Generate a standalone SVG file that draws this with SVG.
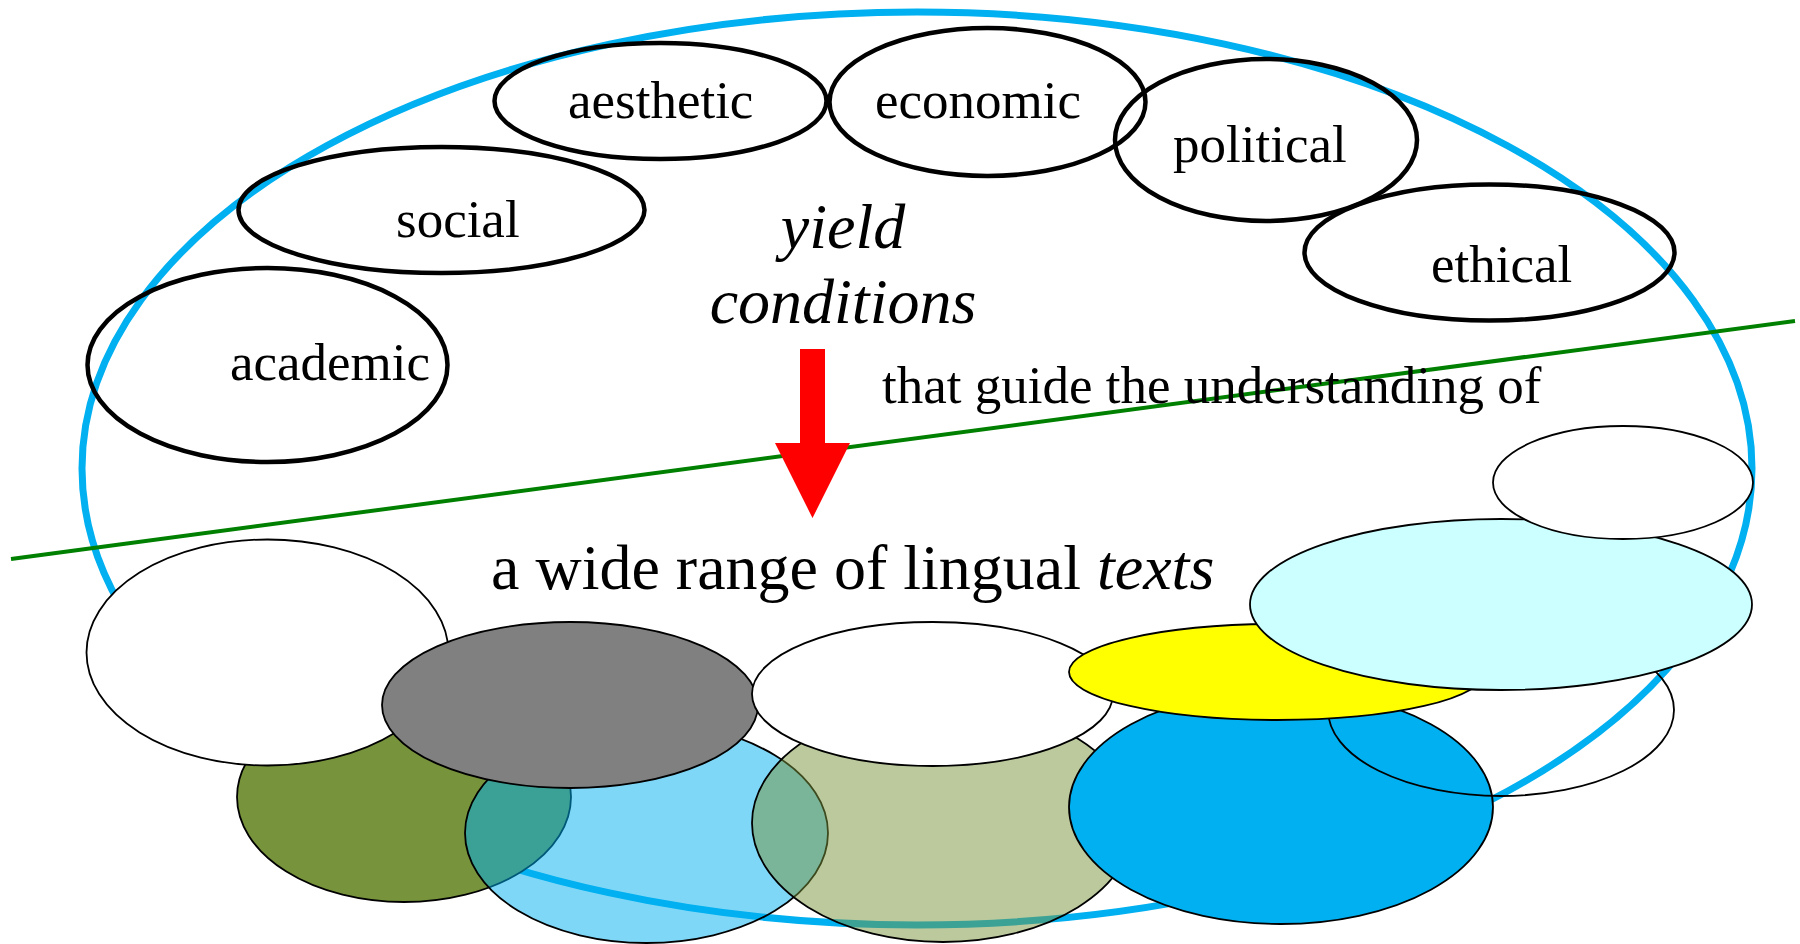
<svg xmlns="http://www.w3.org/2000/svg" width="1800" height="944" viewBox="0 0 1800 944">
<style>
.t{font-family:"Liberation Serif","Times New Roman",serif;fill:#000}
.s53{font-size:53px}
.s64{font-size:64px}
.it{font-style:italic}
.cat{fill:none;stroke:#000;stroke-width:4.5}
.b{stroke:#000;stroke-width:1.8}
</style>
<rect width="1800" height="944" fill="#fff"/>
<g id="frame">
<ellipse cx="917" cy="468.5" rx="835" ry="456.5" fill="none" stroke="#00B0F0" stroke-width="7"/>
</g>
<g id="aesthetic"><ellipse class="cat" cx="660.5" cy="101" rx="166" ry="58"/><text class="t s53" x="568" y="118">aesthetic</text></g>
<g id="economic"><ellipse class="cat" cx="987.5" cy="102" rx="158" ry="74"/><text class="t s53" x="875" y="118">economic</text></g>
<g id="political"><ellipse class="cat" cx="1266" cy="140" rx="151" ry="81"/><text class="t s53" x="1173" y="162">political</text></g>
<g id="social"><ellipse class="cat" cx="441.5" cy="210" rx="203" ry="63"/><text class="t s53" x="396" y="237">social</text></g>
<g id="ethical"><ellipse class="cat" cx="1489.5" cy="252.5" rx="185" ry="68"/><text class="t s53" x="1431" y="282">ethical</text></g>
<g id="academic"><ellipse class="cat" cx="267.5" cy="365" rx="180" ry="97"/><text class="t s53" x="230" y="380">academic</text></g>
<g id="yield"><text class="t s64 it" x="843" y="248" text-anchor="middle">yield</text><text class="t s64 it" x="843" y="323" text-anchor="middle">conditions</text></g>
<g id="connectors">
<line x1="11" y1="559" x2="1795" y2="321" stroke="#008000" stroke-width="4"/>
<polygon points="800,349 825,349 825,443 850,443 812.5,518 775,443 800,443" fill="#FF0000"/>
</g>
<g id="guide"><text class="t s53" x="882" y="403">that guide the understanding of</text></g>
<g id="texts"><text class="t s64" x="491" y="589">a wide range of lingual <tspan class="it">texts</tspan></text></g>
<g id="text-shapes">
<ellipse id="olive" class="b" cx="404" cy="797" rx="167" ry="105" fill="#77933C"/>
<ellipse id="white1" class="b" cx="267.5" cy="652.5" rx="181" ry="113" fill="#fff"/>
<ellipse id="lightblue" class="b" cx="646.5" cy="833" rx="181.5" ry="110" fill="#00B0F0" fill-opacity="0.5"/>
<ellipse id="gray" class="b" cx="570" cy="705" rx="188" ry="83" fill="#808080"/>
<ellipse id="khaki" class="b" cx="943" cy="823" rx="191" ry="119" fill="#77933C" fill-opacity="0.5"/>
<ellipse id="white2" class="b" cx="932.5" cy="694" rx="180.5" ry="72" fill="#fff"/>
<ellipse id="blue" class="b" cx="1281" cy="807" rx="212" ry="117" fill="#00B0F0"/>
<ellipse id="white3" class="b" cx="1501" cy="710" rx="173" ry="86" fill="none"/>
<ellipse id="yellow" class="b" cx="1277" cy="672" rx="208" ry="48" fill="#FFFF00"/>
<ellipse id="cyan" class="b" cx="1501" cy="604.5" rx="251" ry="85.5" fill="#CCFFFF"/>
<ellipse id="white4" class="b" cx="1623" cy="482.5" rx="130" ry="56.5" fill="#fff"/>
</g>
</svg>
